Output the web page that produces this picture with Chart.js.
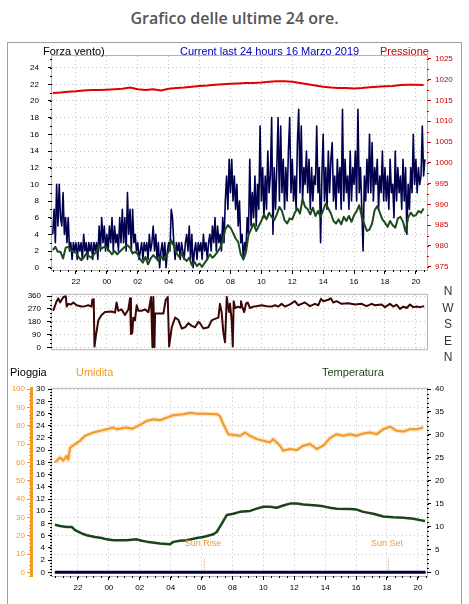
<!DOCTYPE html>
<html>
<head>
<meta charset="utf-8">
<title>Grafico delle ultime 24 ore</title>
<script src="https://cdn.jsdelivr.net/npm/chart.js@4.4.1/dist/chart.umd.min.js"></script>
<style>
  html, body { margin: 0; padding: 0; background: #fff; }
  body { position: relative; width: 469px; height: 604px; overflow: hidden; font-family: 'Liberation Sans', Arial, sans-serif; }
  canvas { position: absolute; left: 0; }
  .lbl { position: absolute; white-space: nowrap; line-height: 1; font-size: 11px; color: #000; }
  .cmp { position: absolute; left: 440px; width: 16px; text-align: center; font-size: 12px; line-height: 1; color: #333; }
  .sun { position: absolute; width: 60px; text-align: center; font-size: 9px; line-height: 1; color: #e89a4e; }
  #title { position: absolute; left: 0; width: 469px; top: 7px; text-align: center; font: 600 16px 'Open Sans', sans-serif; color: #555; }
  #frame { position: absolute; left: 7px; top: 42px; width: 453px; height: 600px; border: 1px solid #a0a0a0; }
</style>
</head>
<body>
<div id="title">Grafico delle ultime 24 ore.</div>
<div id="frame"></div>
<canvas id="wind" width="469" height="250" style="top:40px"></canvas>
<canvas id="dir" width="469" height="76" style="top:284px"></canvas>
<canvas id="meteo" width="469" height="220" style="top:380px"></canvas>

<div class="lbl" style="left:43px;top:46px">Forza vento)</div>
<div class="lbl" style="left:180px;top:46px;color:#0000c0">Current last 24 hours 16 Marzo 2019</div>
<div class="lbl" style="left:380px;top:46px;color:#d00000">Pressione</div>

<div class="cmp" style="top:285px">N</div>
<div class="cmp" style="top:302px">W</div>
<div class="cmp" style="top:318px">S</div>
<div class="cmp" style="top:335px">E</div>
<div class="cmp" style="top:351px">N</div>

<div class="lbl" style="left:10px;top:367px">Pioggia</div>
<div class="lbl" style="left:76px;top:367px;color:#f39a22">Umidita</div>
<div class="lbl" style="left:322px;top:367px;color:#1c4a1c">Temperatura</div>

<div class="sun" style="left:173px;top:539px">Sun Rise</div>
<div class="sun" style="left:357px;top:539px">Sun Set</div>

<script>
// ── Axis ticks ───────────────────────────────────────────────────────────────
const hourTicks  = [22, 24, 26, 28, 30, 32, 34, 36, 38, 40, 42, 44];
const hourLabels = ['22', '00', '02', '04', '06', '08', '10', '12', '14', '16', '18', '20'];
const speedTicks = [0, 2, 4, 6, 8, 10, 12, 14, 16, 18, 20, 22, 24];
const pressTicks = [975, 980, 985, 990, 995, 1000, 1005, 1010, 1015, 1020, 1025];
const dirTicks   = [0, 90, 180, 270, 360];
const rainTicks  = [0, 2, 4, 6, 8, 10, 12, 14, 16, 18, 20, 22, 24, 26, 28, 30];
const humTicks   = [0, 10, 20, 30, 40, 50, 60, 70, 80, 90, 100];
const tempTicks  = [0, 5, 10, 15, 20, 25, 30, 35, 40];

// ── Wind speed (every 5 min from 20:30) ──────────────────────────────────────
const WIND_START = 20.5, WIND_STEP = 5 / 60;
const windSpeed = [
  /* 20:30 */ 4, 7, 3, 10, 5, 10,
  /* 21 */ 6, 5, 9, 4, 6, 3, 6, 2, 3, 1, 3, 2,
  /* 22 */ 3, 1, 3, 2, 3, 1, 4, 2, 3, 1, 3, 2,
  /* 23 */ 3, 1, 3, 2, 3, 1, 5, 2, 6, 3, 5, 2,
  /* 00 */ 4, 2, 5, 3, 6, 2, 5, 3, 4, 2, 6, 3,
  /* 01 */ 7, 3, 6, 2, 9, 4, 7, 2, 7, 3, 4, 2,
  /* 02 */ 3, 1, 2, 3, 1, 3, 2, 3, 1, 4, 2, 3,
  /* 03 */ 5, 2, 4, 1, 3, 0, 2, 3, 1, 3, 0, 2,
  /* 04 */ 3, 2, 7, 6, 3, 1, 3, 2, 3, 1, 3, 2,
  /* 05 */ 1, 3, 4, 2, 5, 1, 4, 0, 2, 3, 1, 3,
  /* 06 */ 2, 3, 1, 4, 2, 3, 1, 3, 4, 2, 5, 3,
  /* 07 */ 6, 2, 5, 3, 4, 2, 6, 3, 8, 11, 7, 13,
  /* 08 */ 9, 13, 8, 11, 7, 10, 5, 8, 3, 4, 1, 3,
  /* 09 */ 2, 6, 4, 13, 5, 9, 6, 11, 5, 10, 7, 17,
  /* 10 */ 8, 12, 6, 11, 7, 14, 9, 11, 18, 4, 12, 7,
  /* 11 */ 12, 18, 8, 17, 9, 13, 7, 12, 8, 14, 18, 9,
  /* 12 */ 13, 8, 11, 7, 15, 19, 9, 17, 8, 12, 10, 14,
  /* 13 */ 9, 13, 7, 12, 8, 11, 10, 17, 9, 12, 3, 11,
  /* 14 */ 16, 8, 12, 7, 14, 9, 13, 15, 8, 11, 7, 13,
  /* 15 */ 9, 12, 7, 19, 8, 13, 9, 11, 7, 14, 8, 12,
  /* 16 */ 10, 14, 8, 19, 9, 12, 7, 2, 11, 8, 13, 9,
  /* 17 */ 16, 9, 15, 8, 12, 10, 13, 7, 11, 9, 14, 8,
  /* 18 */ 12, 8, 11, 7, 13, 9, 10, 6, 14, 8, 12, 9,
  /* 19 */ 11, 7, 13, 8, 12, 4, 10, 7, 12, 9, 16, 10,
  /* 20 */ 13, 9, 12, 10, 11, 17, 11, 13,
];

// average wind (every 10 min from 20:30)
const AVG_START = 20.5, AVG_STEP = 10 / 60;
const windAvg = [
  /* 20:30 */ 2.1, 2.5, 1.9,
  /* 21 */ 1.9, 1.1, 2.4, 2.5, 2.1, 1.9,
  /* 22 */ 1.8, 1.3, 0.9, 1.2, 1.7, 1.4,
  /* 23 */ 1.2, 1.6, 1.9, 2.7, 2.3, 2.5,
  /* 00 */ 2.4, 2.0, 1.6, 2.0, 1.6, 1.9,
  /* 01 */ 2.2, 2.5, 2.7, 2.4, 1.7, 1.9,
  /* 02 */ 1.6, 1.0, 0.6, 1.3, 0.4, 1.1,
  /* 03 */ 1.5, 1.2, 0.8, 1.4, 0.9, 1.3,
  /* 04 */ 2.0, 3.3, 2.6, 1.8, 1.3, 1.7,
  /* 05 */ 1.1, 0.8, 1.2, 0.3, 0.7, 0.2,
  /* 06 */ 0.5, 0.1, 0.6, 1.0, 1.6, 1.2,
  /* 07 */ 1.5, 1.9, 2.4, 3.3, 4.6, 5.1,
  /* 08 */ 4.8, 4.2, 3.5, 3.1, 1.6, 1.0,
  /* 09 */ 1.8, 3.9, 4.6, 5.3, 4.4, 5.0,
  /* 10 */ 5.6, 6.4, 5.8, 6.6, 6.1, 5.7,
  /* 11 */ 6.4, 7.3, 6.8, 5.7, 5.3, 5.9,
  /* 12 */ 5.8, 6.6, 7.1, 6.5, 8.2, 7.3,
  /* 13 */ 7.0, 6.4, 7.2, 6.2, 6.8, 6.1,
  /* 14 */ 6.9, 7.7, 7.1, 6.5, 5.6, 5.3,
  /* 15 */ 5.8, 5.2, 6.1, 5.6, 6.2, 5.5,
  /* 16 */ 6.3, 6.8, 7.5, 6.1, 5.2, 4.4,
  /* 17 */ 4.6, 5.3, 6.9, 7.4, 6.6, 5.8,
  /* 18 */ 5.4, 4.9, 5.6, 5.1, 4.8, 5.9,
  /* 19 */ 6.1, 5.5, 4.3, 6.0, 6.6, 6.2,
  /* 20 */ 6.3, 6.8, 6.6, 7.1,
];

// pressure (hPa, every 30 min from 20:30)
const PRESS_START = 20.5, PRESS_STEP = 0.5;
const pressure = [
  1016.8, 1016.9, 1017.1, 1017.2, 1017.4, 1017.5, 1017.5, 1017.6, 1017.7, 1017.8,
  1018.1, 1017.7, 1017.5, 1017.7, 1017.4, 1017.8, 1018.0, 1018.1, 1018.3, 1018.5,
  1018.6, 1018.8, 1018.9, 1019.0, 1019.1, 1019.2, 1019.2, 1019.3, 1019.5, 1019.6,
  1019.6, 1019.5, 1019.2, 1018.9, 1018.6, 1018.3, 1018.1, 1018.0, 1018.0, 1017.9,
  1018.0, 1018.2, 1018.3, 1018.4, 1018.5, 1018.7, 1018.8, 1018.8, 1018.7,
];

// ── Wind direction (hours since midnight of the previous day, degrees) ─────
const dirTimes = [
  20.53, 20.75, 20.86, 20.97, 21.19, 21.34, 21.40, 21.51, 21.68, 21.83,
  22.04, 22.37, 22.59, 22.80, 23.01, 23.06, 23.15, 23.20, 23.28, 23.45,
  23.66, 23.88, 24.31, 24.53, 24.63, 24.74, 24.96, 25.17, 25.39, 25.50,
  25.56, 25.65, 25.71, 25.82, 25.93, 26.04, 26.25, 26.47, 26.69, 26.86,
  26.95, 27.01, 27.08, 27.12, 27.44, 27.66, 27.81, 27.94, 28.03, 28.09,
  28.20, 28.42, 28.63, 28.85, 29.06, 29.28, 29.50, 29.71, 29.93, 30.03,
  30.25, 30.57, 30.78, 31.00, 31.22, 31.32, 31.43, 31.54, 31.65, 31.76,
  31.82, 31.91, 31.97, 32.08, 32.15, 32.21, 32.30, 32.51, 32.62, 32.68,
  32.76, 32.89, 33.00, 33.11, 33.26, 33.48, 33.69, 34.02, 34.34, 34.66,
  34.88, 35.10, 35.31, 35.53, 35.85, 36.17, 36.39, 36.60, 36.82, 37.14,
  37.47, 37.68, 37.86, 38.01, 38.33, 38.50, 38.65, 38.87, 39.19, 39.63,
  40.06, 40.49, 40.81, 41.14, 41.35, 41.78, 42.00, 42.32, 42.54, 42.75,
  42.97, 43.19, 43.40, 43.62, 43.83, 44.05, 44.26, 44.54,
];
const dirDeg = [
  257, 325, 345, 316, 354, 360, 287, 306, 302, 316,
  296, 287, 290, 296, 287, 335, 339, 5, 74, 190,
  228, 248, 252, 244, 316, 257, 267, 228, 267, 345,
  93, 103, 209, 190, 296, 257, 257, 267, 248, 354,
  0, 354, 0, 238, 238, 238, 335, 354, 6, 54,
  141, 209, 194, 132, 141, 170, 151, 141, 180, 170,
  132, 141, 190, 200, 209, 306, 248, 103, 35, 354,
  306, 248, 306, 190, 6, 325, 277, 287, 280, 325,
  287, 248, 306, 316, 277, 287, 290, 296, 290, 287,
  296, 287, 306, 287, 302, 325, 296, 306, 316, 290,
  306, 296, 341, 325, 335, 345, 316, 325, 306, 310,
  302, 306, 290, 306, 296, 302, 283, 306, 287, 300,
  271, 287, 277, 302, 283, 287, 283, 290,
];

// ── Humidity / temperature / rain ────────────────────────────────────────────
const humTimes = [
  20.51, 20.84, 21.05, 21.27, 21.37, 21.49, 21.81, 22.13, 22.46, 22.99,
  23.43, 23.86, 24.29, 24.51, 25.15, 25.50, 26.02, 26.45, 26.88, 27.31,
  27.74, 28.17, 28.82, 29.25, 29.69, 30.33, 30.98, 31.19, 31.41, 31.73,
  32.05, 32.49, 32.81, 33.14, 33.57, 34.00, 34.43, 34.64, 35.08, 35.29,
  35.72, 36.16, 36.59, 37.02, 37.45, 37.88, 38.31, 38.75, 39.17, 39.61,
  40.04, 40.47, 40.90, 41.34, 41.76, 42.20, 42.63, 43.06, 43.49, 43.92,
  44.35,
];
const humidity = [
  60, 62.7, 61, 63.6, 61.5, 68, 70, 71.8, 74.5, 76.3,
  77.2, 78.1, 79, 78.1, 79, 78.3, 80.5, 82.6, 83.5, 83,
  84.4, 85.7, 86.3, 87.1, 86.6, 86.6, 86.3, 85.3, 80.8, 75.4,
  75, 74.5, 76.3, 74.5, 72.7, 71.8, 70.9, 72.7, 69.1, 66.4,
  67.3, 66.7, 69.1, 70, 67.3, 69.1, 73.2, 75.4, 74.5, 75.4,
  74.5, 75.8, 76.3, 75.4, 78.1, 79.5, 77.2, 76.8, 78.1, 78.1,
  79,
];
const tempTimes = [
  20.51, 20.84, 21.27, 21.60, 21.81, 22.24, 22.57, 23.10, 23.54, 23.86,
  24.29, 25.15, 25.80, 26.13, 26.45, 27.31, 27.96, 28.17, 28.60, 29.04,
  29.69, 30.11, 30.76, 30.98, 31.30, 31.63, 32.05, 32.49, 33.14, 33.57,
  34.00, 34.43, 34.86, 35.29, 35.72, 36.16, 36.59, 37.45, 37.88, 38.31,
  38.75, 39.61, 40.04, 40.47, 41.12, 41.76, 42.41, 43.06, 43.71, 44.14,
  44.46,
];
const temperature = [
  10.4, 10.1, 9.9, 9.9, 9.2, 8.5, 8.1, 7.7, 7.5, 7.2,
  7.0, 7.0, 7.2, 6.9, 6.7, 6.3, 6.15, 6.65, 6.9, 7.0,
  7.5, 7.7, 8.3, 8.8, 10.6, 12.5, 12.8, 13.2, 13.4, 13.9,
  14.3, 14.3, 14.1, 14.6, 15.0, 15.0, 14.8, 14.6, 14.4, 14.1,
  13.9, 13.8, 13.7, 13.2, 12.8, 12.2, 12.0, 11.9, 11.7, 11.4,
  11.2,
];
const rainTimes = [20.5, 44.5];
const rainMm    = [0, 0];
const sunTimes  = [30.18, 42.09];   // sun rise, sun set
const sunMark   = [0, 2.2];

// ── Helpers ──────────────────────────────────────────────────────────────────
const tickFont  = { family: "'Liberation Sans', Arial, sans-serif", size: 8 };
const gridColor = '#c4c4c4';
const frameColor = '#b4b4b4';

const regular = (values, start, step) => values.map((v, i) => ({ x: start + i * step, y: v }));
const paired  = (times, values) => times.map((t, i) => ({ x: t, y: values[i] }));
const fixedTicks = list => s => { s.ticks = list.map(v => ({ value: v })); };

// Light grey box around each plot area
const framePlugin = {
  id: 'plotFrame',
  beforeDatasetsDraw(chart) {
    const a = chart.chartArea, ctx = chart.ctx;
    ctx.save();
    ctx.strokeStyle = frameColor;
    ctx.lineWidth = 1;
    ctx.strokeRect(a.left - 0.5, a.top - 0.5, a.right - a.left + 1, a.bottom - a.top + 1);
    ctx.restore();
  },
};

// Small intermediate tick marks between the labelled ones
const minorTickPlugin = {
  id: 'minorTicks',
  afterDraw(chart, args, opts) {
    const ctx = chart.ctx;
    (opts.list || []).forEach(m => {
      const s = chart.scales[m.axis];
      ctx.save();
      ctx.strokeStyle = m.color;
      ctx.lineWidth = 1;
      ctx.beginPath();
      for (let v = Math.ceil(s.min / m.step) * m.step; v <= s.max + 1e-9; v += m.step) {
        const p = Math.round(s.getPixelForValue(v)) + 0.5;
        if (s.isHorizontal()) { ctx.moveTo(p, s.top); ctx.lineTo(p, s.top + m.len); }
        else if (s.position === 'left') { ctx.moveTo(s.right - m.len, p); ctx.lineTo(s.right, p); }
        else { ctx.moveTo(s.left, p); ctx.lineTo(s.left + m.len, p); }
      }
      ctx.stroke();
      ctx.restore();
    });
  },
};

function baseOptions(padding, scales, minor) {
  return {
    responsive: false,
    animation: false,
    events: [],
    devicePixelRatio: 1,
    layout: { padding },
    elements: { point: { radius: 0 }, line: { tension: 0, borderJoinStyle: 'round' } },
    plugins: { legend: { display: false }, tooltip: { enabled: false }, minorTicks: { list: minor } },
    scales,
  };
}

function timeAxis(min, max, showLabels, height) {
  return {
    type: 'linear', position: 'bottom', min, max,
    afterBuildTicks: fixedTicks(hourTicks),
    afterFit: s => { s.height = height; },
    ticks: {
      display: showLabels, autoSkip: false, maxRotation: 0, padding: 3,
      color: '#000', font: tickFont,
      callback: v => hourLabels[hourTicks.indexOf(v)],
    },
    grid: { color: gridColor, drawTicks: showLabels, tickLength: 4, tickColor: '#000', tickBorderDash: [] },
    border: { display: false, dash: [1, 3] },
  };
}

function sideAxis(position, min, max, tickList, width, o) {
  return {
    type: 'linear', position, min, max,
    weight: o.weight || 0,
    afterBuildTicks: fixedTicks(tickList),
    afterFit: s => { s.width = width; },
    ticks: {
      color: o.labelColor || '#000', font: tickFont, padding: o.padding, autoSkip: false,
      callback: v => String(v),
    },
    grid: {
      drawOnChartArea: !!o.grid, color: gridColor,
      tickLength: o.tickLength || 4, tickColor: o.tickColor || '#000', tickBorderDash: [],
    },
    border: { display: !!o.border, color: o.border, width: o.borderWidth || 1, dash: [1, 3] },
  };
}

// ── Wind speed + pressure ────────────────────────────────────────────────────
new Chart(document.getElementById('wind'), {
  type: 'line',
  data: {
    datasets: [
      { label: 'Vento medio', data: regular(windAvg, AVG_START, AVG_STEP), borderColor: '#1c4a1c', borderWidth: 2, yAxisID: 'ySpeed' },
      { label: 'Vento', data: regular(windSpeed, WIND_START, WIND_STEP), borderColor: '#00004e', borderWidth: 1.6, yAxisID: 'ySpeed' },
      { label: 'Pressione', data: regular(pressure, PRESS_START, PRESS_STEP), borderColor: '#e00000', borderWidth: 2, yAxisID: 'yPress' },
    ],
  },
  options: baseOptions({ top: 16 }, {
    x: timeAxis(20.45, 44.72, true, 20),
    ySpeed: sideAxis('left', -0.28, 25.4, speedTicks, 52, { padding: 9, grid: true }),
    yPress: sideAxis('right', 974.2, 1025.7, pressTicks, 42, { padding: 4, labelColor: '#d00000', tickColor: '#d00000' }),
  }, [
    { axis: 'x', step: 0.5, len: 2, color: '#000' },
    { axis: 'ySpeed', step: 1, len: 2, color: '#000' },
    { axis: 'yPress', step: 2.5, len: 2, color: '#d00000' },
  ]),
  plugins: [framePlugin, minorTickPlugin],
});

// ── Wind direction ───────────────────────────────────────────────────────────
new Chart(document.getElementById('dir'), {
  type: 'line',
  data: {
    datasets: [
      { label: 'Direzione', data: paired(dirTimes, dirDeg), borderColor: '#3d0606', borderWidth: 2, yAxisID: 'yDir' },
    ],
  },
  options: baseOptions({ top: 5, right: 42, bottom: 5 }, {
    x: timeAxis(20.45, 44.72, false, 0),
    yDir: sideAxis('left', -13.4, 369.9, dirTicks, 52, { padding: 6, tickLength: 5, grid: true }),
  }, [
    { axis: 'yDir', step: 30, len: 2, color: '#000' },
  ]),
  plugins: [framePlugin, minorTickPlugin],
});

// ── Rain / humidity / temperature ────────────────────────────────────────────
const sunDataset = t => ({
  data: sunMark.map(v => ({ x: t, y: v })),
  borderColor: '#e89a4e', borderWidth: 1, borderDash: [1, 1], yAxisID: 'yRain',
});

new Chart(document.getElementById('meteo'), {
  type: 'line',
  data: {
    datasets: [
      { label: 'Umidita', data: paired(humTimes, humidity), borderColor: '#f39a22', borderWidth: 2, yAxisID: 'yHum' },
      { label: 'Umidita ombra', data: paired(humTimes, humidity), borderColor: 'rgba(250,200,140,0.5)', borderWidth: 4.5, yAxisID: 'yHum' },
      { label: 'Temperatura', data: paired(tempTimes, temperature), borderColor: '#1a451a', borderWidth: 2.5, yAxisID: 'yTemp' },
      { label: 'Pioggia', data: paired(rainTimes, rainMm), borderColor: '#00004e', borderWidth: 3, yAxisID: 'yRain' },
      sunDataset(sunTimes[0]),
      sunDataset(sunTimes[1]),
    ],
  },
  options: baseOptions({ top: 8 }, {
    x: timeAxis(20.32, 44.59, true, 24),
    yRain: sideAxis('left', -0.6, 30.05, rainTicks, 21, { weight: 1, padding: 3 }),
    yHum: sideAxis('left', -2.0, 100.15, humTicks, 31, {
      weight: 2, padding: 2, grid: true, labelColor: '#f39a22', tickColor: '#f39a22',
      border: '#f39a22', borderWidth: 3,
    }),
    yTemp: sideAxis('right', -0.8, 40.06, tempTicks, 42, { padding: 4 }),
  }, [
    { axis: 'x', step: 0.5, len: 2, color: '#000' },
    { axis: 'yRain', step: 0.5, len: 2, color: '#000' },
    { axis: 'yHum', step: 2, len: 2, color: '#f39a22' },
    { axis: 'yTemp', step: 1, len: 2, color: '#000' },
  ]),
  plugins: [framePlugin, minorTickPlugin],
});
</script>
</body>
</html>
